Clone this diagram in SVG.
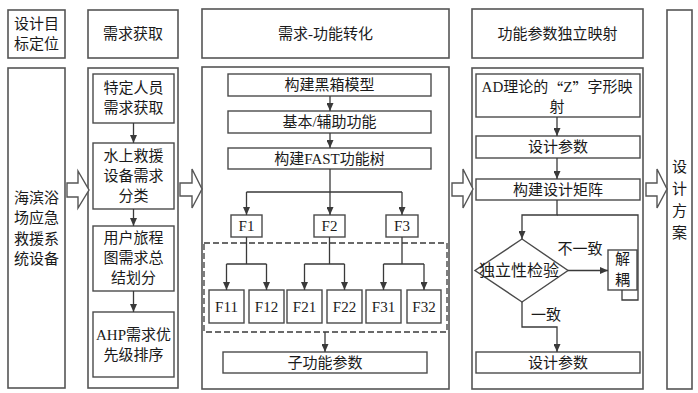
<svg xmlns="http://www.w3.org/2000/svg" width="698" height="393" viewBox="0 0 698 393">
<defs>
<marker id="ah" markerUnits="userSpaceOnUse" markerWidth="8" markerHeight="7" refX="8" refY="3.5" orient="auto">
<path d="M0,0 L8,3.5 L0,7 z" fill="#3a3a3a"/>
</marker>
<style>
.box{fill:#fff;stroke:#4a4a4a;stroke-width:1.4}
.outer{fill:#fff;stroke:#555;stroke-width:1.6}
.t{font-family:"Liberation Serif","Noto Sans CJK SC",serif;font-size:15px;fill:#1a1a1a;text-anchor:middle;dominant-baseline:central}
.cjk{font-family:"Noto Sans CJK SC",sans-serif}
.ln{fill:none;stroke:#3a3a3a;stroke-width:1.3}
.arr{fill:none;stroke:#3a3a3a;stroke-width:1.3;marker-end:url(#ah)}
.blk{fill:#fff;stroke:#555;stroke-width:1.4;stroke-linejoin:miter}
.dash{fill:none;stroke:#3a3a3a;stroke-width:1.3;stroke-dasharray:6 3}
</style>
</defs>
<rect width="698" height="393" fill="#fff"/>

<!-- Column 1 -->
<g id="hdr1"><rect class="outer" x="8" y="10" width="57" height="48"/><text class="t" x="36.5" y="24">设计目</text><text class="t" x="36.5" y="44">标定位</text></g>
<g id="col1"><rect class="outer" x="8" y="68" width="57" height="320"/>
<text class="t" x="36.5" y="198">海滨浴</text><text class="t" x="36.5" y="218">场应急</text><text class="t" x="36.5" y="239">救援系</text><text class="t" x="36.5" y="259">统设备</text></g>

<!-- Column 2 -->
<g id="hdr2"><rect class="outer" x="88" y="10" width="90" height="48"/><text class="t" x="133" y="34">需求获取</text></g>
<g id="col2"><rect class="outer" x="88" y="68" width="90" height="320"/></g>
<g id="n_c2_1"><rect class="box" x="93" y="74" width="81" height="49"/><text class="t" x="133.5" y="88">特定人员</text><text class="t" x="133.5" y="108">需求获取</text></g>
<g id="n_c2_2"><rect class="box" x="93" y="143" width="81" height="66"/><text class="t" x="133.5" y="156">水上救援</text><text class="t" x="133.5" y="176">设备需求</text><text class="t" x="133.5" y="196">分类</text></g>
<g id="n_c2_3"><rect class="box" x="93" y="226" width="81" height="65"/><text class="t" x="133.5" y="238">用户旅程</text><text class="t" x="133.5" y="258">图需求总</text><text class="t" x="133.5" y="278">结划分</text></g>
<g id="n_c2_4"><rect class="box" x="93" y="312" width="81" height="65"/><text class="t" x="133.5" y="335">AHP需求优</text><text class="t" x="133.5" y="355">先级排序</text></g>

<!-- Column 3 -->
<g id="hdr3"><rect class="outer" x="202" y="9" width="247" height="49"/><text class="t" x="325.5" y="34">需求-功能转化</text></g>
<g id="col3"><rect class="outer" x="202" y="67" width="247" height="322"/></g>
<g id="n_black"><rect class="box" x="228" y="74" width="203" height="22"/><text class="t" x="329.5" y="85">构建黑箱模型</text></g>
<g id="n_basic"><rect class="box" x="228" y="111" width="203" height="22"/><text class="t" x="329.5" y="122">基本/辅助功能</text></g>
<g id="n_fast"><rect class="box" x="228" y="148" width="203" height="21"/><text class="t" x="329.5" y="158.5">构建FAST功能树</text></g>
<g id="n_F1"><rect class="box" x="231" y="215" width="31" height="22"/><text class="t" x="246.5" y="226">F1</text></g>
<g id="n_F2"><rect class="box" x="314" y="215" width="31" height="22"/><text class="t" x="329.5" y="226">F2</text></g>
<g id="n_F3"><rect class="box" x="386" y="215" width="32" height="22"/><text class="t" x="402" y="226">F3</text></g>
<g id="n_group"><rect class="dash" x="204" y="243" width="243" height="89"/></g>
<g id="n_F11"><rect class="box" x="209" y="290" width="35" height="33"/><text class="t" x="226.5" y="306.5">F11</text></g>
<g id="n_F12"><rect class="box" x="249" y="290" width="35" height="33"/><text class="t" x="266.5" y="306.5">F12</text></g>
<g id="n_F21"><rect class="box" x="287" y="290" width="35" height="33"/><text class="t" x="304.5" y="306.5">F21</text></g>
<g id="n_F22"><rect class="box" x="327" y="290" width="35" height="33"/><text class="t" x="344.5" y="306.5">F22</text></g>
<g id="n_F31"><rect class="box" x="366" y="290" width="35" height="33"/><text class="t" x="383.5" y="306.5">F31</text></g>
<g id="n_F32"><rect class="box" x="407" y="290" width="34" height="33"/><text class="t" x="424" y="306.5">F32</text></g>
<g id="n_sub"><rect class="box" x="223" y="352" width="204" height="21"/><text class="t" x="325" y="362.5">子功能参数</text></g>

<!-- Column 4 -->
<g id="hdr4"><rect class="outer" x="472" y="9" width="171" height="49"/><text class="t" x="557.5" y="34">功能参数独立映射</text></g>
<g id="col4"><rect class="outer" x="472" y="68" width="171" height="321"/></g>
<g id="n_ad"><rect class="box" x="476" y="74" width="164" height="43"/><text class="t" x="557" y="87">AD理论的<tspan class="cjk">“</tspan>Z<tspan class="cjk">”</tspan>字形映</text><text class="t" x="557" y="107">射</text></g>
<g id="n_dp1"><rect class="box" x="476" y="136" width="164" height="22"/><text class="t" x="558" y="147">设计参数</text></g>
<g id="n_matrix"><rect class="box" x="476" y="179" width="164" height="21"/><text class="t" x="558" y="189.5">构建设计矩阵</text></g>
<g id="n_check"><polygon class="box" points="522,239 568,270.5 522,302 475,270.5"/><text class="t" x="519" y="270.5" style="font-size:16px">独立性检验</text></g>
<g id="n_decouple"><rect class="box" x="608" y="250" width="29" height="40"/><text class="t" x="622.5" y="259">解</text><text class="t" x="622.5" y="280">耦</text></g>
<g id="n_dp2"><rect class="box" x="476" y="352" width="164" height="21"/><text class="t" x="558" y="362.5">设计参数</text></g>

<!-- Column 5 -->
<g id="col5"><rect class="outer" x="667" y="10" width="25" height="379"/>
<text class="t" x="679.5" y="167">设</text><text class="t" x="679.5" y="189">计</text><text class="t" x="679.5" y="211">方</text><text class="t" x="679.5" y="233">案</text></g>

<!-- Connectors -->
<g id="connectors">
<path class="blk" d="M67,183 H78 V171 L89,190 L78,208 V197 H67 Z"/>
<path class="blk" d="M180,183 H192 V169 L202,189 L192,208 V196 H180 Z"/>
<path class="blk" d="M452,183 H463 V169 L473,189 L463,208 V196 H452 Z"/>
<path class="blk" d="M646,183 H657 V169 L667,189 L657,208 V196 H646 Z"/>

<path class="arr" d="M133.5,123 V143"/>
<path class="arr" d="M133.5,209 V226"/>
<path class="arr" d="M133.5,291 V312"/>

<path class="arr" d="M330,96 V111"/>
<path class="arr" d="M330,133 V148"/>
<path class="ln" d="M330,169 V192 M246.5,192 H402"/>
<path class="arr" d="M246.5,192 V215"/>
<path class="arr" d="M330,192 V215"/>
<path class="arr" d="M402,192 V215"/>

<path class="ln" d="M246.5,237 V264 M226.5,264 H266.5"/>
<path class="arr" d="M226.5,264 V290"/>
<path class="arr" d="M266.5,264 V290"/>
<path class="ln" d="M329.5,237 V264 M304.5,264 H344.5"/>
<path class="arr" d="M304.5,264 V290"/>
<path class="arr" d="M344.5,264 V290"/>
<path class="ln" d="M402,237 V264 M383.5,264 H424"/>
<path class="arr" d="M383.5,264 V290"/>
<path class="arr" d="M424,264 V290"/>
<path class="arr" d="M325,332 V352"/>

<path class="arr" d="M557,117 V136"/>
<path class="arr" d="M557,158 V179"/>
<path class="arr" d="M557,200 V215 H522 V239"/>
<path class="ln" d="M622,290 V300 H638 V215 H557"/>
<path class="arr" d="M568,270.5 H608"/>
<path class="arr" d="M522,302 V327 H557 V352"/>
<text class="t" x="580" y="249">不一致</text>
<text class="t" x="546" y="315">一致</text>
</g>
</svg>
